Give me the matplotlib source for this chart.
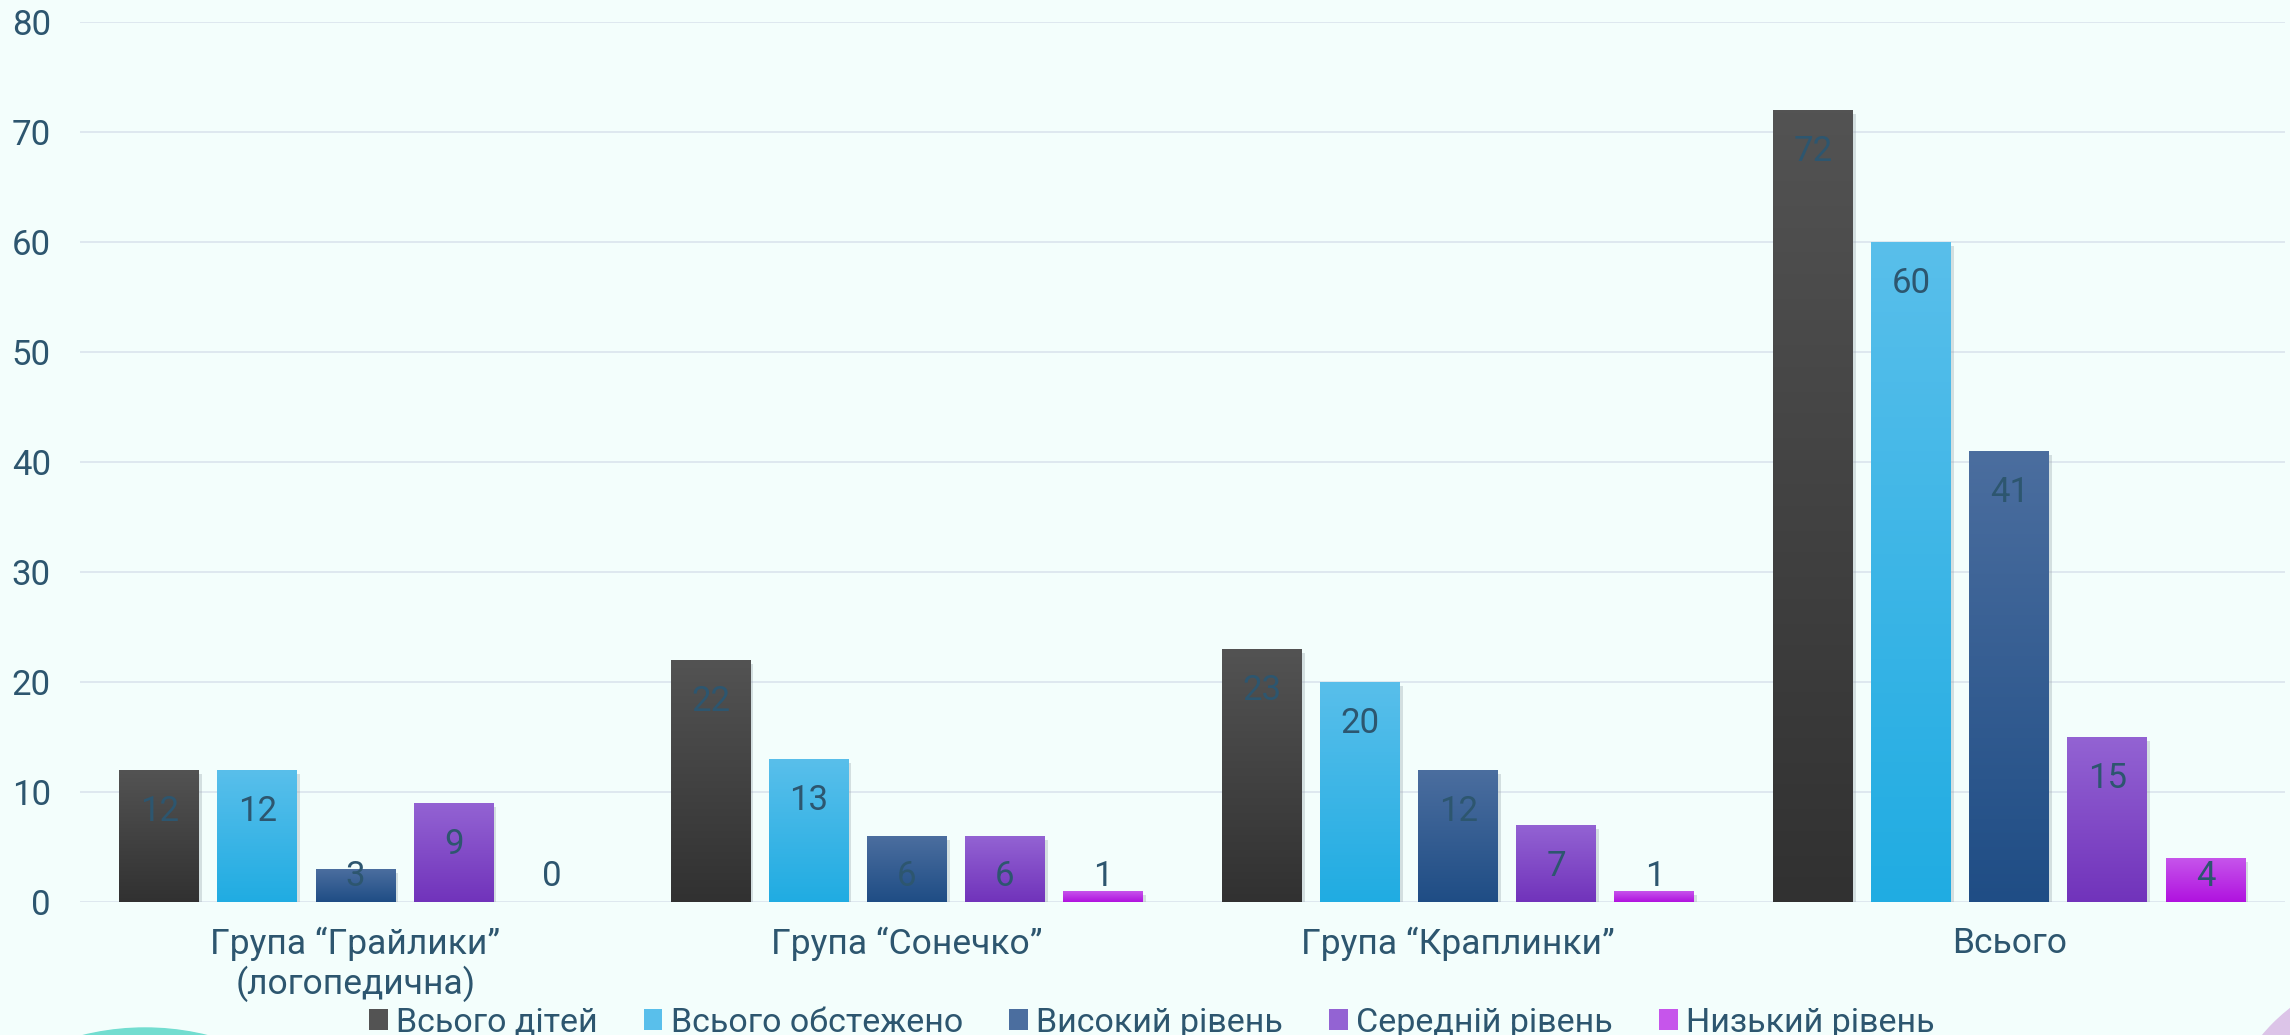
import matplotlib.pyplot as plt
import numpy as np
from matplotlib.colors import LinearSegmentedColormap
from matplotlib.patches import Patch, Ellipse
import matplotlib.patheffects as pe

categories = ['Група “Грайлики”\n(логопедична)', 'Група “Сонечко”', 'Група “Краплинки”', 'Всього']
series_names = ['Всього дітей', 'Всього обстежено', 'Високий рівень', 'Середній рівень', 'Низький рівень']
vsogo_ditei = [12, 22, 23, 72]
vsogo_obstezheno = [12, 13, 20, 60]
vysokyi = [3, 6, 12, 41]
serednii = [9, 6, 7, 15]
nyzkyi = [0, 1, 1, 4]
yticks = [0, 10, 20, 30, 40, 50, 60, 70, 80]

# top / bottom colours of each bar gradient
grad_colors = [('#535353', '#313131'),
               ('#59bfeb', '#20ace2'),
               ('#4b6e9f', '#1f4d85'),
               ('#9363d3', '#7133bb'),
               ('#c655eb', '#b012df')]

BG = '#f3fefc'
TXT = '#2d566f'
FS = 25


def main():
    plt.rcParams['font.family'] = ['Roboto', 'DejaVu Sans']
    values = [vsogo_ditei, vsogo_obstezheno, vysokyi, serednii, nyzkyi]

    fig = plt.figure(figsize=(22.9, 10.35), dpi=100, facecolor=BG)
    ax = fig.add_axes([0.0349, 0.1285, 0.9629, 0.8502])
    ax.set_facecolor(BG)

    x = np.arange(len(categories))
    step = 0.178
    width = 0.145
    ax.set_xlim(-0.5, 3.5)
    ax.set_ylim(0, 80)

    for i, (name, vals) in enumerate(zip(series_names, values)):
        top, bot = grad_colors[i]
        cmap = LinearSegmentedColormap.from_list(name, [bot, top])
        grad = np.linspace(0, 1, 256).reshape(-1, 1)
        xs = x + (i - 2) * step
        bars = ax.bar(xs, vals, width, color=top, zorder=3)
        for b, v in zip(bars, vals):
            if v <= 0:
                b.set_visible(False)
            else:
                b.set_path_effects([pe.SimplePatchShadow(offset=(2, -3), shadow_rgbFace='#9aa6ad', alpha=0.35),
                                    pe.Normal()])
                im = ax.imshow(grad, cmap=cmap, aspect='auto', origin='lower',
                               extent=(b.get_x(), b.get_x() + b.get_width(), 0, v), zorder=3.5)
                im.set_clip_path(b)
            ly = max(v - 4.6, 1.5)
            ax.text(b.get_x() + b.get_width() / 2, ly, str(v), ha='center', va='baseline',
                    fontsize=FS, color=TXT, zorder=5)

    ax.set_yticks(yticks)
    ax.set_yticklabels([str(t) for t in yticks], fontsize=FS, color=TXT)
    ax.set_xticks(x)
    ax.set_xticklabels(categories, fontsize=25.5, color=TXT, linespacing=1.15)
    ax.tick_params(axis='both', length=0)
    ax.tick_params(axis='y', pad=21)
    ax.tick_params(axis='x', pad=18)
    ax.grid(axis='y', color='#dce6ee', linewidth=1.3, zorder=0)
    for s in ax.spines.values():
        s.set_visible(False)

    handles = [Patch(facecolor=grad_colors[i][0], edgecolor='none') for i in range(5)]
    fig.legend(handles, series_names, loc='center', bbox_to_anchor=(0.503, 0.012), ncol=5,
               frameon=False, fontsize=24.5, labelcolor=TXT, handlelength=0.55, handleheight=0.55,
               handletextpad=0.25, columnspacing=1.35)

    # decorative shapes in the corners
    fig.add_artist(Ellipse((145 / 2290, 1 - 1288 / 1035), 520 / 2290, 520 / 1035,
                           transform=fig.transFigure, color='#72ddd0', zorder=0))
    fig.add_artist(Ellipse((2400 / 2290, 1 - 1150 / 1035), 358 / 2290, 358 / 1035,
                           transform=fig.transFigure, color='#dcc4e8', zorder=0))

    fig.savefig('out.png', dpi=100, facecolor=BG)


if __name__ == '__main__':
    main()
